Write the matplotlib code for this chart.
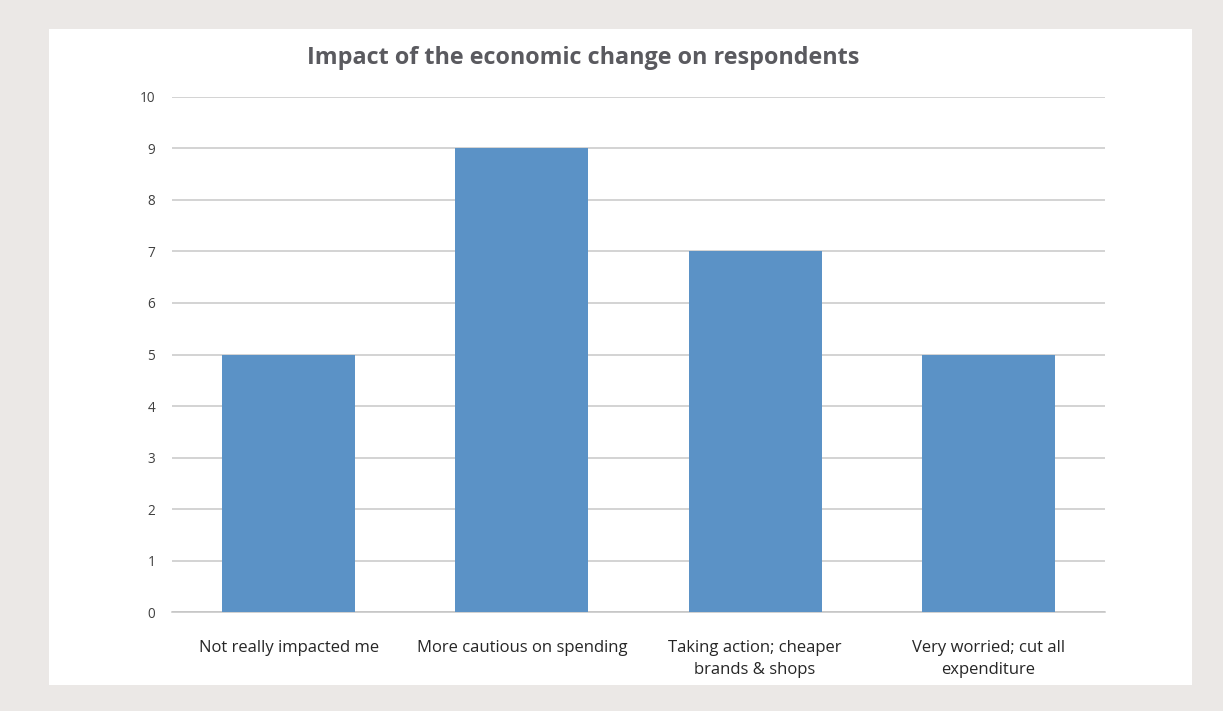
import matplotlib
matplotlib.use("Agg")
import matplotlib.pyplot as plt
from matplotlib.patches import Rectangle

categories = ["Not really impacted me", "More cautious on spending",
              "Taking action; cheaper\nbrands & shops", "Very worried; cut all\nexpenditure"]
values = [5, 9, 7, 5]
yticks = list(range(0, 11))

fig = plt.figure(figsize=(12.23, 7.11), dpi=100)
fig.patch.set_facecolor("#ebe8e6")

# white card behind chart
card = Rectangle((0.040, 0.0366), 0.9346, 0.9226, transform=fig.transFigure,
                 facecolor="white", edgecolor="none", zorder=-1)
fig.add_artist(card)

ax = fig.add_axes([0.1406, 0.1392, 0.7629, 0.7244])
ax.set_zorder(1)
ax.set_facecolor("white")
ax.bar(range(len(values)), values, width=0.57, color="#5b92c6", zorder=3)

ax.set_xlim(-0.5, len(values) - 0.5)
ax.set_ylim(0, 10)
ax.set_yticks(yticks)
ax.yaxis.grid(True, color="#c8c8c8", linewidth=1.1, zorder=0)
ax.set_axisbelow(True)
for s in ["top", "right", "left"]:
    ax.spines[s].set_visible(False)
ax.spines["bottom"].set_color("#c4c4c4")
ax.spines["bottom"].set_linewidth(1.1)
ax.tick_params(axis="both", length=0)
ax.tick_params(axis="y", pad=12, labelsize=9.8, labelcolor="#404040")
ax.set_xticks(range(len(categories)))
ax.set_xticklabels(categories, fontsize=12, color="#262626", family="Open Sans", linespacing=1.5)
ax.tick_params(axis="x", pad=20)
for t in ax.get_yticklabels():
    t.set_family("Open Sans")

fig.text(0.477, 0.918, "Impact of the economic change on respondents", ha="center", va="center",
         fontsize=16.8, fontweight="bold", color="#5a5a5f", family="Open Sans")

fig.savefig("out.png", dpi=100, facecolor=fig.get_facecolor())
